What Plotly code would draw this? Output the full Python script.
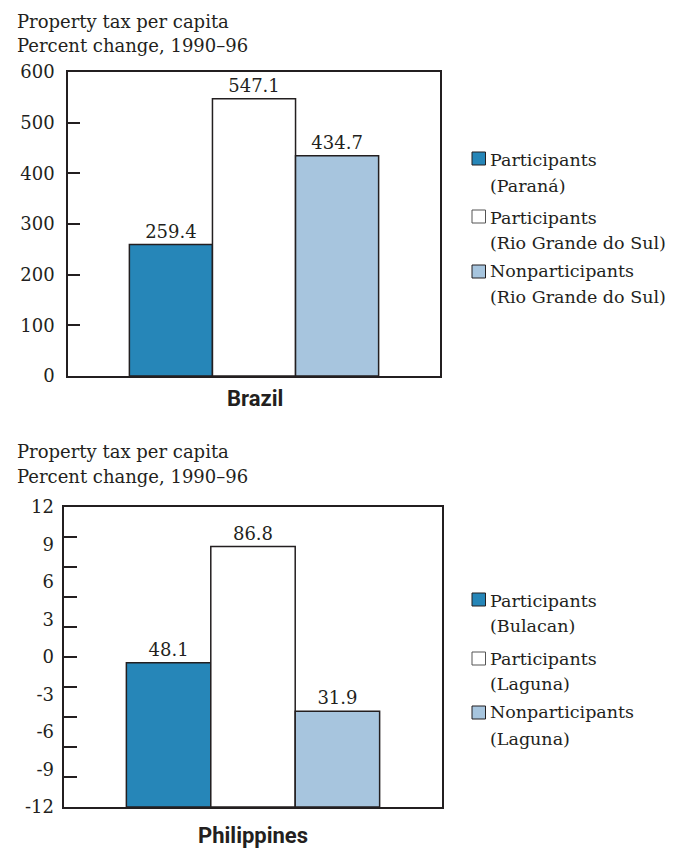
import plotly.graph_objects as go

# ---------------- data ----------------
series_names = ["Participants", "Participants", "Nonparticipants"]
series_colors = ["#2686b8", "#ffffff", "#a7c5de"]

brazil_category = "Brazil"
brazil_regions = ["Paraná", "Rio Grande do Sul", "Rio Grande do Sul"]
brazil_values = [259.4, 547.1, 434.7]
brazil_ticks = [0, 100, 200, 300, 400, 500, 600]

phil_category = "Philippines"
phil_regions = ["Bulacan", "Laguna", "Laguna"]
phil_values = [48.1, 86.8, 31.9]
phil_minor_ticks = [0, 10, 20, 30, 40, 50, 60, 70, 80, 90, 100]
phil_tick_labels = [12, 9, 6, 3, 0, -3, -6, -9, -12]

y_title_lines = ["Property tax per capita", "Percent change, 1990–96"]

# ---------------- styling ----------------
# the page places the figure 8px in from the window's top-left corner
OFF = 8
W, H = 674 - OFF, 848 - OFF
INK = "#231f20"
SERIF = "DejaVu Serif"
COND = "Roboto"
FS = 18
LEG_FS = 17.5


def px(x):
    return (x - OFF) / W


def py(y):
    return 1 - (y - OFF) / H


fig = go.Figure()

for i in range(3):
    fig.add_trace(go.Bar(
        x=[brazil_category], y=[brazil_values[i]],
        name=series_names[i], showlegend=False,
        marker=dict(color=series_colors[i], line=dict(color=INK, width=1.5)),
        text=[f"{brazil_values[i]:.1f}"], textposition="outside",
        textfont=dict(family=SERIF, size=FS, color=INK),
        cliponaxis=False, xaxis="x", yaxis="y",
    ))
    fig.add_trace(go.Bar(
        x=[phil_category], y=[phil_values[i]],
        name=series_names[i], showlegend=False,
        marker=dict(color=series_colors[i], line=dict(color=INK, width=1.5)),
        text=[f"{phil_values[i]:.1f}"], textposition="outside",
        textfont=dict(family=SERIF, size=FS, color=INK),
        cliponaxis=False, xaxis="x2", yaxis="y2",
    ))

frame = dict(showline=True, mirror=True, linecolor=INK, linewidth=1.6,
             showgrid=False, zeroline=False, automargin=False)

fig.update_layout(
    width=W, height=H,
    margin=dict(l=0, r=0, t=0, b=0, pad=0, autoexpand=False),
    paper_bgcolor="white", plot_bgcolor="white",
    barmode="group", bargap=0.33, bargroupgap=0,
    font=dict(family=SERIF, size=FS, color=INK),
    xaxis=dict(domain=[px(68), px(440)], anchor="y", range=[-0.5, 0.5],
               showticklabels=False, ticks="", **frame),
    yaxis=dict(domain=[py(376), py(72)], anchor="x", range=[0, 600],
               tickvals=brazil_ticks, ticktext=[str(v) for v in brazil_ticks],
               ticks="inside", ticklen=12, tickwidth=1.5, tickcolor=INK,
               ticklabelstandoff=8,
               tickfont=dict(family=SERIF, size=FS, color=INK), **frame),
    xaxis2=dict(domain=[px(64), px(442)], anchor="y2", range=[-0.5, 0.5],
                showticklabels=False, ticks="", **frame),
    yaxis2=dict(domain=[py(807), py(507)], anchor="x2", range=[0, 100],
                tickvals=phil_minor_ticks, showticklabels=False,
                ticks="inside", ticklen=13, tickwidth=1.5, tickcolor=INK, **frame),
    yaxis3=dict(overlaying="y2", anchor="x2", side="left", range=[-12, 12],
                tickvals=phil_tick_labels, ticktext=[str(v) for v in phil_tick_labels],
                ticks="", showline=False, showgrid=False, zeroline=False,
                automargin=False, ticklabelstandoff=9,
                tickfont=dict(family=SERIF, size=FS, color=INK)),
)

# invisible trace to activate yaxis3
fig.add_trace(go.Scatter(x=[phil_category], y=[0], xaxis="x2", yaxis="y3",
                         mode="markers", marker=dict(opacity=0), showlegend=False,
                         hoverinfo="skip"))

annotations = []
shapes = []


def text(x, y_center, s, size=FS, family=SERIF, anchor="left"):
    annotations.append(dict(x=px(x), y=py(y_center), xref="paper", yref="paper",
                            text=s, showarrow=False, xanchor=anchor, yanchor="middle",
                            font=dict(family=family, size=size, color=INK)))


# y-axis titles
for j, line in enumerate(y_title_lines):
    text(15, [21.5, 45.5][j], line)
    text(15, [451.8, 476.5][j], line)

# category labels
text(255, 398.5, f"<b>{brazil_category}</b>", size=22, family=COND, anchor="center")
text(253, 835.5, f"<b>{phil_category}</b>", size=22, family=COND, anchor="center")

# legends
top_square_y = [152, 210, 265]
top_line_y = [(159.8, 185.5), (217.8, 242.8), (270.5, 296.8)]
bot_square_y = [593, 652, 706]
bot_line_y = [(600.8, 625.8), (658.8, 683.8), (711.8, 738.8)]

for i in range(3):
    for sq_y, lines, regions in ((top_square_y[i], top_line_y[i], brazil_regions),
                                 (bot_square_y[i], bot_line_y[i], phil_regions)):
        shapes.append(dict(type="rect", xref="paper", yref="paper",
                           x0=px(472), x1=px(485.5), y0=py(sq_y + 13), y1=py(sq_y),
                           fillcolor=series_colors[i],
                           line=dict(color=INK if i != 1 else "#555555", width=1)))
        text(487.5, lines[0], series_names[i], size=LEG_FS)
        text(487.5, lines[1], f"({regions[i]})", size=LEG_FS)

fig.update_layout(annotations=annotations, shapes=shapes)

fig.write_html("out.html")
